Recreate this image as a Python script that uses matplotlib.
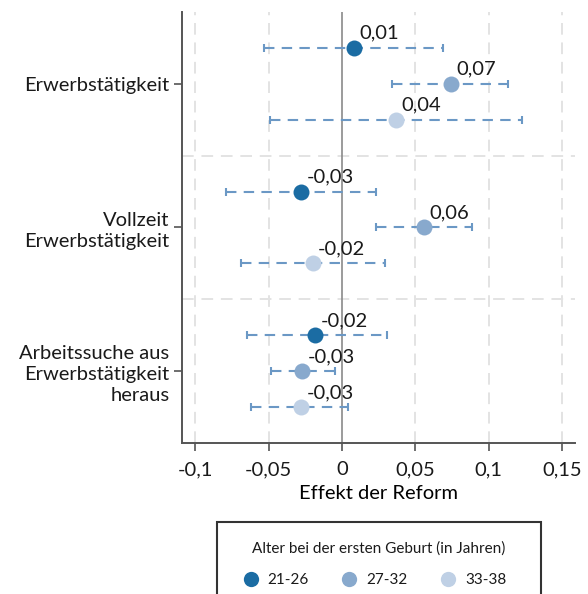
import numpy as np
import matplotlib
matplotlib.use("Agg")
import matplotlib.pyplot as plt
from matplotlib.lines import Line2D
from matplotlib.patches import Rectangle

# ==========================================
# Data
# ==========================================
OUTCOMES = ["Erwerbstätigkeit", "Vollzeit\nErwerbstätigkeit", "Arbeitssuche aus\nErwerbstätigkeit\nheraus"]
AGE_GROUPS = ["21-26", "27-32", "33-38"]

# point estimates per age group, one value per outcome (top to bottom)
coef_21_26 = [0.008, -0.028, -0.018]
coef_27_32 = [0.0745, 0.056, -0.027]
coef_33_38 = [0.037, -0.020, -0.028]

# lower / upper bounds of the confidence intervals
lo_21_26 = [-0.053, -0.079, -0.065]
hi_21_26 = [0.069, 0.023, 0.031]
lo_27_32 = [0.0345, 0.023, -0.048]
hi_27_32 = [0.113, 0.089, -0.005]
lo_33_38 = [-0.049, -0.069, -0.062]
hi_33_38 = [0.123, 0.0295, 0.004]

X_TICKS = [-0.1, -0.05, 0, 0.05, 0.1, 0.15]
X_TICKLABELS = ["-0,1", "-0,05", "0", "0,05", "0,1", "0,15"]

COLORS = ["#1b6ca3", "#88a9cd", "#bfd0e5"]
CI_COLOR = "#6b98c5"
FONT = "Lato"
FS = 14.5


def plot_coefs():
	plt.rcParams.update({
		'font.family': FONT,
		'font.size': FS,
		'text.color': '#1a1a1a',
	})

	fig = plt.figure(figsize=(5.88, 5.94), dpi=100)
	ax = fig.add_axes([0.3095, 0.2542, 0.978 - 0.3095, 0.98 - 0.2542])

	coefs = [coef_21_26, coef_27_32, coef_33_38]
	los = [lo_21_26, lo_27_32, lo_33_38]
	his = [hi_21_26, hi_27_32, hi_33_38]
	offsets = [0.25, 0.0, -0.25]

	base_y = np.arange(len(OUTCOMES), 0, -1)  # 3, 2, 1

	# grid lines
	for xv in X_TICKS:
		if xv == 0:
			continue
		ax.axvline(xv, color='#e3e3e3', lw=1.4, ls=(0, (6, 4)), zorder=0)
	for yv in [1.5, 2.5]:
		ax.axhline(yv, color='#e3e3e3', lw=1.4, ls=(0, (6, 4)), zorder=0)
	ax.axvline(0, color='#8a8a8a', lw=1.2, zorder=1)

	for k in range(len(AGE_GROUPS)):
		y = base_y + offsets[k]
		c = np.array(coefs[k])
		lo = np.array(los[k])
		hi = np.array(his[k])
		eb = ax.errorbar(c, y, xerr=[c - lo, hi - c], fmt='none', ecolor=CI_COLOR,
						 elinewidth=1.5, capsize=3, capthick=1.5, zorder=2)
		eb[2][0].set_linestyle((0, (5, 3.5)))
		ax.plot(c, y, 'o', color=COLORS[k], ms=11.5, mec='none', zorder=3)
		for xi, yi in zip(c, y):
			lab = f"{xi:.2f}".replace('.', ',')
			ax.annotate(lab, (xi, yi), xytext=(4.0, 6.5), textcoords='offset points',
						ha='left', va='baseline', fontsize=FS, zorder=4)

	ax.set_xlim(-0.109, 0.159)
	ax.set_ylim(0.5, 3.5)
	ax.set_xticks(X_TICKS)
	ax.set_xticklabels(X_TICKLABELS)
	ax.set_yticks(base_y)
	ax.set_yticklabels(OUTCOMES, linespacing=1.3)
	ax.set_xlabel("Effekt der Reform", labelpad=5)

	for s in ['top', 'right']:
		ax.spines[s].set_visible(False)
	for s in ['left', 'bottom']:
		ax.spines[s].set_color('#555555')
		ax.spines[s].set_linewidth(1.4)
	ax.tick_params(axis='both', colors='#555555', width=1.2, length=6, labelcolor='#1a1a1a')
	ax.tick_params(axis='x', pad=7)
	ax.tick_params(axis='y', pad=3)

	# legend box (runs off the bottom of the figure as in the original)
	fig.patches.append(Rectangle((0.3685, -0.05), 0.551, 0.1717, transform=fig.transFigure,
								 fill=False, ec='#333333', lw=1.5))
	fig.text(0.644, 1 - 549 / 594, "Alter bei der ersten Geburt (in Jahren)", ha='center',
			 va='center', fontsize=11)
	handles = [Line2D([], [], ls='none', marker='o', ms=11, mec='none', color=COLORS[k])
			   for k in range(len(AGE_GROUPS))]
	fig.legend(handles, AGE_GROUPS, loc='center', bbox_to_anchor=(0.637, 1 - 580 / 594),
			   ncol=3, frameon=False, fontsize=11, handletextpad=0.62, columnspacing=2.14,
			   handlelength=1.0, borderaxespad=0, borderpad=0)

	fig.savefig("out.png", dpi=100)
	plt.close(fig)


if __name__ == "__main__":
	plot_coefs()
